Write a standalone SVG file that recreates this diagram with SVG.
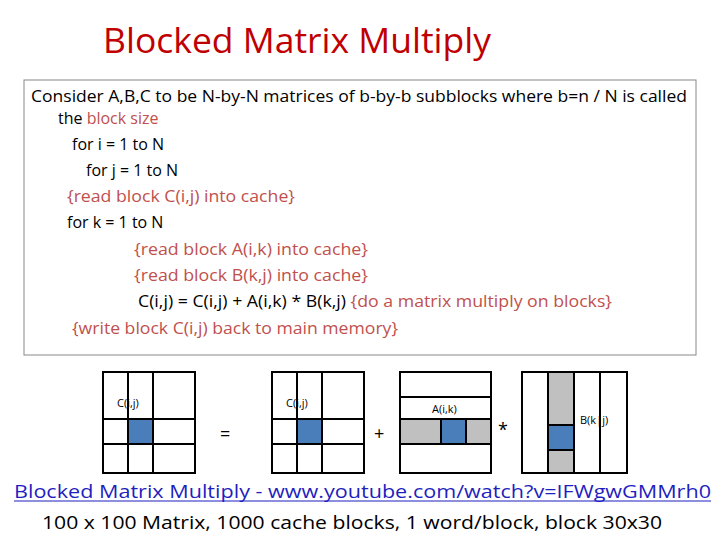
<svg xmlns="http://www.w3.org/2000/svg" width="720" height="540" viewBox="0 0 720 540">
<style>
text{font-family:"Open Sans","Liberation Sans",sans-serif;fill:#000}
.t{font-size:16px}
.g{fill:none;stroke:#000;stroke-width:2}
.l{stroke:#000;stroke-width:2}
.s{font-size:11px}
</style>
<rect width="720" height="540" fill="#fff"/>
<text x="103" y="53" font-size="34" style="fill:#c00000" textLength="388" lengthAdjust="spacingAndGlyphs">Blocked Matrix Multiply</text>
<g id="codebox">
<rect x="24" y="80" width="672" height="275" fill="#fff" stroke="#888" stroke-width="1"/>
<text class="t" x="31" y="102" textLength="656" lengthAdjust="spacingAndGlyphs">Consider A,B,C to be N-by-N matrices of b-by-b subblocks where b=n / N is called</text>
<text class="t" x="58" y="124">the <tspan style="fill:#c0504d">block size</tspan></text>
<text class="t" x="72" y="150">for i = 1 to N</text>
<text class="t" x="86" y="176">for j = 1 to N</text>
<text class="t" x="67" y="202" style="fill:#c0504d" textLength="228" lengthAdjust="spacingAndGlyphs">{read block C(i,j) into cache}</text>
<text class="t" x="67" y="228">for k = 1 to N</text>
<text class="t" x="134" y="255" style="fill:#c0504d" textLength="234" lengthAdjust="spacingAndGlyphs">{read block A(i,k) into cache}</text>
<text class="t" x="134" y="281" style="fill:#c0504d" textLength="234" lengthAdjust="spacingAndGlyphs">{read block B(k,j) into cache}</text>
<text class="t" x="138" y="307" textLength="474" lengthAdjust="spacingAndGlyphs">C(i,j) = C(i,j) + A(i,k) * B(k,j) <tspan style="fill:#c0504d">{do a matrix multiply on blocks}</tspan></text>
<text class="t" x="72" y="334" style="fill:#c0504d" textLength="326" lengthAdjust="spacingAndGlyphs">{write block C(i,j) back to main memory}</text>
</g>
<g id="C1">
<rect x="128" y="419" width="25" height="25" fill="#4a7ebb"/>
<rect x="103" y="372" width="92" height="101" class="g"/>
<line x1="128" y1="372" x2="128" y2="473" class="l"/><line x1="153" y1="372" x2="153" y2="473" class="l"/>
<line x1="103" y1="419" x2="195" y2="419" class="l"/><line x1="103" y1="444" x2="195" y2="444" class="l"/>
<text class="s" x="117" y="407">C(i,j)</text>
</g>
<text x="220" y="440" font-size="18">=</text>
<g id="C2">
<rect x="297" y="419" width="25" height="25" fill="#4a7ebb"/>
<rect x="272" y="372" width="92" height="101" class="g"/>
<line x1="297" y1="372" x2="297" y2="473" class="l"/><line x1="322" y1="372" x2="322" y2="473" class="l"/>
<line x1="272" y1="419" x2="364" y2="419" class="l"/><line x1="272" y1="444" x2="364" y2="444" class="l"/>
<text class="s" x="286" y="407">C(i,j)</text>
</g>
<text x="374" y="440" font-size="18">+</text>
<g id="A">
<rect x="400" y="419" width="91" height="25" fill="#c0c0c0"/>
<rect x="441" y="419" width="25" height="25" fill="#4a7ebb"/>
<rect x="400" y="372" width="91" height="101" class="g"/>
<line x1="400" y1="397" x2="491" y2="397" class="l"/><line x1="400" y1="419" x2="491" y2="419" class="l"/><line x1="400" y1="444" x2="491" y2="444" class="l"/>
<line x1="441" y1="419" x2="441" y2="444" class="l"/><line x1="466" y1="419" x2="466" y2="444" class="l"/>
<text class="s" x="432" y="413">A(i,k)</text>
</g>
<text x="498" y="436" font-size="18">*</text>
<g id="B">
<rect x="548" y="372" width="26" height="101" fill="#c0c0c0"/>
<rect x="548" y="425" width="26" height="25" fill="#4a7ebb"/>
<rect x="522" y="372" width="105" height="101" class="g"/>
<line x1="548" y1="372" x2="548" y2="473" class="l"/><line x1="574" y1="372" x2="574" y2="473" class="l"/><line x1="600" y1="372" x2="600" y2="473" class="l"/>
<line x1="548" y1="425" x2="574" y2="425" class="l"/><line x1="548" y1="450" x2="574" y2="450" class="l"/>
<text class="s" x="580" y="424">B(k|j)</text>
</g>
<text x="14" y="498" font-size="19" style="fill:#1f1fbf" textLength="697" lengthAdjust="spacingAndGlyphs">Blocked Matrix Multiply - www.youtube.com/watch?v=IFWgwGMMrh0</text>
<line x1="14" y1="501" x2="711" y2="501" stroke="#1f1fbf" stroke-width="1.2"/>
<text x="42" y="529" font-size="19" textLength="620" lengthAdjust="spacingAndGlyphs">100 x 100 Matrix, 1000 cache blocks, 1 word/block, block 30x30</text>
</svg>
